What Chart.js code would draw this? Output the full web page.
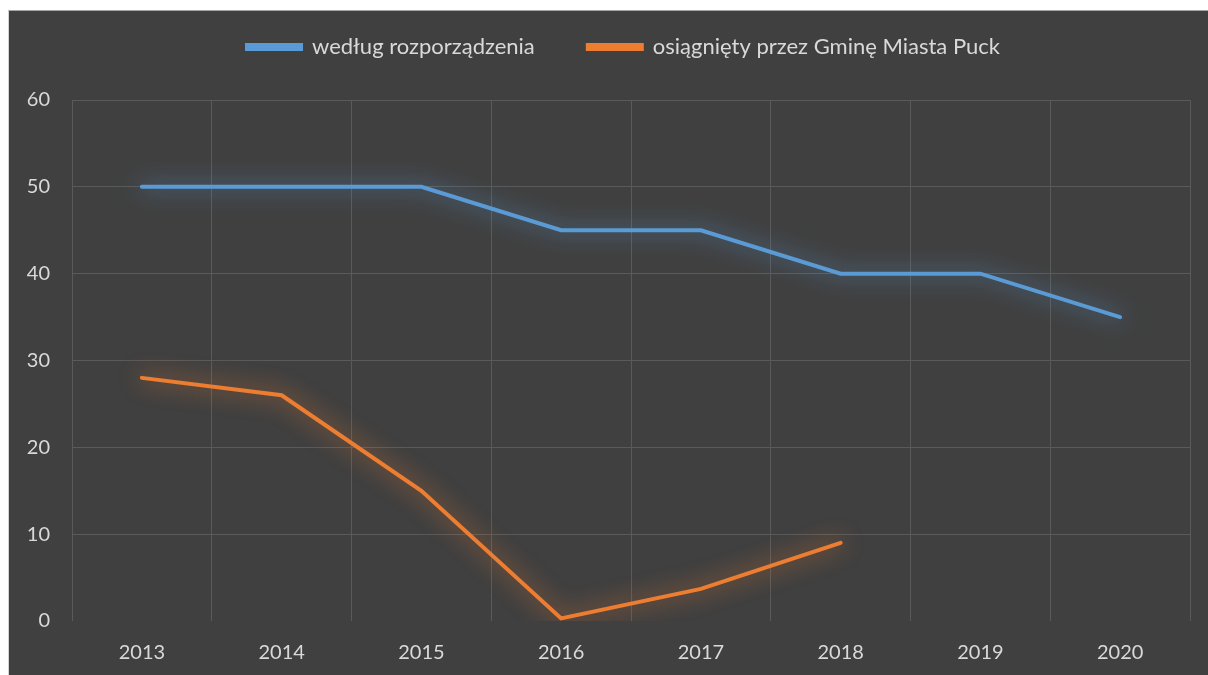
<!DOCTYPE html>
<html>
<head>
<meta charset="utf-8">
<script src="https://cdn.jsdelivr.net/npm/chart.js@4/dist/chart.umd.min.js"></script>
<style>
    html, body { margin: 0; padding: 0; background: #ffffff; }
    #frame {
        position: absolute;
        left: 8px;
        top: 10px;
        width: 1199px;
        height: 664px;
        background: #404040;
        border-top: 1px solid #a6a6a6;
        border-left: 1px solid #d4d4d4;
    }
    #frame canvas { display: block; }
</style>
</head>
<body>
<div id="frame"><canvas id="recycling-chart" width="1199" height="664"></canvas></div>
<script>
// Chart data
const years = ['2013', '2014', '2015', '2016', '2017', '2018', '2019', '2020'];
const requiredLevel = [50, 50, 50, 45, 45, 40, 40, 35];
const achievedLevel = [28, 26, 15, 0.3, 3.7, 9];
const seriesNames = ['według rozporządzenia', 'osiągnięty przez Gminę Miasta Puck'];
const yTicks = [0, 10, 20, 30, 40, 50, 60];

const textColor = '#d9d9d9';
const gridColor = '#5a5a5a';
const fontFamily = 'Lato, "Open Sans", sans-serif';

// Soft glow under each line
const glowPlugin = {
    id: 'glow',
    colors: ['rgba(91, 155, 213, 0.95)', 'rgba(237, 125, 49, 0.95)'],
    beforeDatasetDraw(chart, args) {
        const ctx = chart.ctx;
        ctx.save();
        ctx.shadowColor = this.colors[args.index];
        ctx.shadowBlur = 22;
    },
    afterDatasetDraw(chart) {
        chart.ctx.restore();
    }
};

// The centred legend counts its trailing padding, so move it back to the right
const legendShift = {
    id: 'legendShift',
    afterLayout(chart) {
        if (!chart.legend) return;
        chart.legend.left += 24;
        chart.legend.right += 24;
    }
};

const recyclingChart = {
    init() {
        const ctx = document.getElementById('recycling-chart');
        if (!ctx) return;

        new Chart(ctx, {
            type: 'line',
            data: {
                labels: years,
                datasets: [{
                    label: seriesNames[0],
                    data: requiredLevel,
                    borderColor: '#5b9bd5',
                    backgroundColor: '#5b9bd5',
                    borderWidth: 4,
                    borderCapStyle: 'round',
                    pointRadius: 0,
                    tension: 0
                }, {
                    label: seriesNames[1],
                    data: achievedLevel,
                    borderColor: '#ed7d31',
                    backgroundColor: '#ed7d31',
                    borderWidth: 4,
                    borderCapStyle: 'round',
                    pointRadius: 0,
                    tension: 0
                }]
            },
            options: {
                responsive: false,
                animation: false,
                // negative top pulls the wide-padded legend up to its place
                layout: { padding: { top: -28, right: 18, bottom: 0, left: 0 } },
                plugins: {
                    legend: {
                        position: 'top',
                        weight: 3000,
                        labels: {
                            color: textColor,
                            font: { family: fontFamily, size: 22 },
                            boxWidth: 54,
                            boxHeight: 4,
                            padding: 53
                        }
                    },
                    title: {
                        display: true,
                        text: ' ',
                        font: { size: 1, lineHeight: 1 },
                        padding: { top: 0, bottom: 31 }
                    },
                    tooltip: { enabled: false }
                },
                scales: {
                    x: {
                        offset: true,
                        grid: { color: gridColor, offset: true, drawTicks: false },
                        border: { display: false },
                        ticks: {
                            color: textColor,
                            font: { family: fontFamily, size: 20 },
                            padding: 20,
                            maxRotation: 0
                        },
                        afterFit(scale) { scale.height = 54; }
                    },
                    y: {
                        min: 0,
                        max: 60,
                        afterBuildTicks(scale) {
                            scale.ticks = yTicks.map(v => ({ value: v }));
                        },
                        grid: {
                            color: (c) => c.tick && c.tick.value === 0 ? 'rgba(0,0,0,0)' : gridColor,
                            drawTicks: false
                        },
                        border: { display: false },
                        ticks: {
                            color: textColor,
                            font: { family: fontFamily, size: 20 },
                            padding: 22
                        },
                        afterFit(scale) { scale.width = 63; }
                    }
                }
            },
            plugins: [glowPlugin, legendShift]
        });
    }
};

document.addEventListener('DOMContentLoaded', () => {
    recyclingChart.init();
});
</script>
</body>
</html>
